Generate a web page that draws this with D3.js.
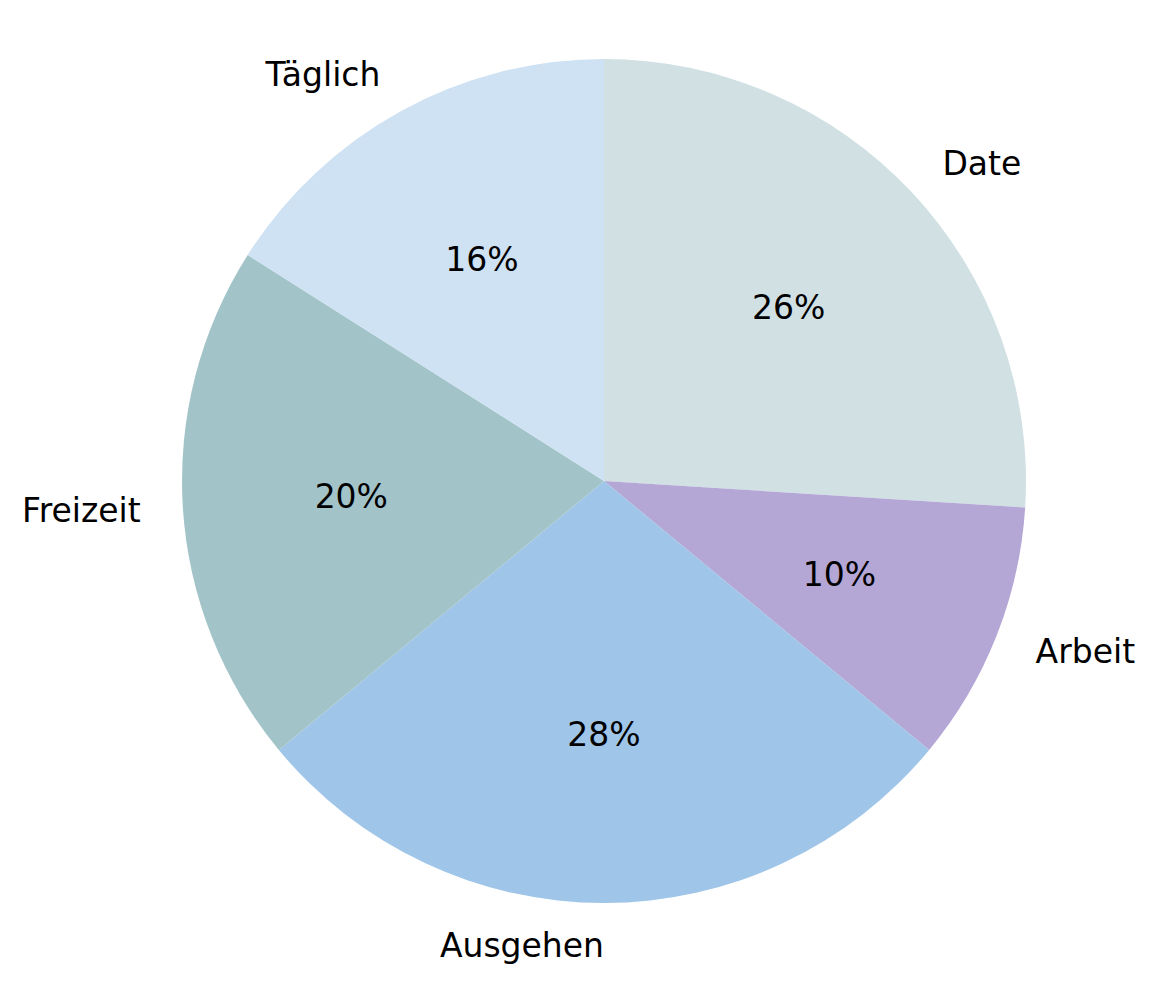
<!DOCTYPE html>
<html><head><meta charset="utf-8">
<script src="https://cdn.jsdelivr.net/npm/d3@7"></script>
<style>body{margin:0;background:#fff}</style>
</head><body>
<svg id="c" width="1156" height="983"></svg>
<script>
const categories = ["Date", "Arbeit", "Ausgehen", "Freizeit", "Täglich"];
const values = [26, 10, 28, 20, 16];
const colors = ["#d0e0e3", "#b4a7d6", "#9fc5e8", "#a2c4c9", "#cfe2f3"];

const svg = d3.select("#c");
const cx = 604, cy = 481, R = 422;
const fs = 33;
const g = svg.append("g").attr("transform", `translate(${cx},${cy})`);
const data = categories.map((c, i) => ({cat: c, val: values[i], col: colors[i]}));
const pie = d3.pie().value(d => d.val).sort(null);
const arcs = pie(data);
const arc = d3.arc().innerRadius(0).outerRadius(R);
g.selectAll("path").data(arcs).join("path")
  .attr("d", arc).attr("fill", d => d.data.col);

const total = d3.sum(values);
arcs.forEach(a => {
  const mid = (a.startAngle + a.endAngle) / 2;
  const sx = Math.sin(mid), sy = -Math.cos(mid);
  const lx = 1.1 * R * sx, ly = 1.1 * R * sy;
  g.append("text").attr("x", lx).attr("y", ly)
    .attr("text-anchor", lx > 1e-6 ? "start" : "end")
    .attr("dominant-baseline", "central")
    .attr("font-family", "DejaVu Sans").attr("font-size", fs).attr("fill", "#000")
    .text(a.data.cat);
  const px = 0.6 * R * sx, py = 0.6 * R * sy;
  g.append("text").attr("x", px).attr("y", py)
    .attr("text-anchor", "middle").attr("dominant-baseline", "central")
    .attr("font-family", "DejaVu Sans").attr("font-size", fs).attr("fill", "#000")
    .text(Math.round(a.data.val / total * 100) + "%");
});
</script>
</body></html>
